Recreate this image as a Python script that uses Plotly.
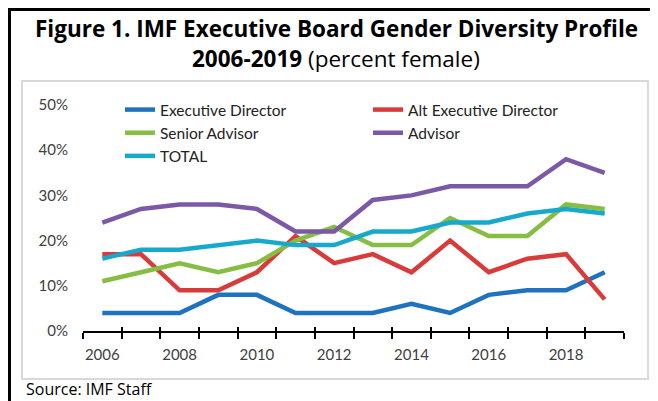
import plotly.graph_objects as go

years = list(range(2006, 2020))
exec_director = [4, 4, 4, 8, 8, 4, 4, 4, 6, 4, 8, 9, 9, 13]
alt_exec_director = [17, 17, 9, 9, 13, 21, 15, 17, 13, 20, 13, 16, 17, 7]
senior_advisor = [11, 13, 15, 13, 15, 20, 23, 19, 19, 25, 21, 21, 28, 27]
advisor = [24, 27, 28, 28, 27, 22, 22, 29, 30, 32, 32, 32, 38, 35]
total = [16, 18, 18, 19, 20, 19, 19, 22, 22, 24, 24, 26, 27, 26]

series_names = ["Executive Director", "Alt Executive Director", "Senior Advisor", "Advisor", "TOTAL"]
series_values = [exec_director, alt_exec_director, senior_advisor, advisor, total]
series_colors = ["#1F72BD", "#D93B3B", "#86BD43", "#7B59A6", "#17A9CC"]

x_label_years = [2006, 2008, 2010, 2012, 2014, 2016, 2018]
y_ticks = [0, 10, 20, 30, 40, 50]

boundaries = [years[0] - 0.5 + i for i in range(len(years) + 1)]

fig = go.Figure()
for name, vals, col in zip(series_names, series_values, series_colors):
    fig.add_trace(go.Scatter(x=years, y=vals, mode="lines", name=name,
                             line=dict(color=col, width=4.5)))
# empty helper trace so the overlay axis (inner half of crossing ticks) is drawn
fig.add_trace(go.Scatter(x=[], y=[], xaxis="x2", showlegend=False, hoverinfo="skip"))

# page offset (browser body margin)
OFF = 8
W, H = 658, 401
L, R, T, B = 75, 42, 97, 78
pw, ph = W - L - R, H - T - B

def px(x):  # page x -> paper
    return (x - OFF - L) / pw

def py(y):  # page y -> paper
    return (H - B - (y - OFF)) / ph

tick_font = dict(family="Lato, Open Sans, sans-serif", size=15, color="#404040")

fig.update_layout(
    width=W, height=H,
    margin=dict(l=L, r=R, t=T, b=B),
    paper_bgcolor="white", plot_bgcolor="white",
    showlegend=True,
    legend=dict(orientation="h", x=px(120), xanchor="left", y=py(133), yanchor="middle",
                entrywidth=203, font=dict(family="Lato, Open Sans, sans-serif", size=15.5, color="#222222"),
                bgcolor="rgba(0,0,0,0)", itemclick=False, tracegroupgap=0),
    xaxis=dict(range=[boundaries[0], boundaries[-1]], tickmode="array",
               tickvals=x_label_years, ticktext=[str(v) for v in x_label_years],
               ticks="", showgrid=False, zeroline=False,
               showline=True, linecolor="#000000", linewidth=2,
               tickfont=tick_font, ticklabelstandoff=9,
               minor=dict(tickmode="array", tickvals=boundaries, ticks="outside",
                          ticklen=6, tickwidth=2, tickcolor="#000000", showgrid=False)),
    xaxis2=dict(overlaying="x", matches="x", anchor="y", side="bottom",
                tickmode="array", tickvals=boundaries, ticks="inside", ticklen=4,
                tickwidth=2, tickcolor="#000000", showticklabels=False,
                showline=False, showgrid=False, zeroline=False),
    yaxis=dict(range=[0, 50], tickmode="array", tickvals=y_ticks,
               ticktext=[f"{v}%" for v in y_ticks], ticks="", showgrid=False,
               zeroline=False, showline=False, tickfont=tick_font, ticklabelstandoff=14),
    shapes=[
        dict(type="rect", xref="paper", yref="paper", x0=px(22), x1=px(648), y0=py(379), y1=py(81),
             line=dict(color="#D9D9D9", width=2), fillcolor="rgba(0,0,0,0)", layer="below"),
        dict(type="line", xref="paper", yref="paper", x0=px(8), x1=px(670), y0=py(9.5), y1=py(9.5),
             line=dict(color="#000000", width=3)),
        dict(type="line", xref="paper", yref="paper", x0=px(9.5), x1=px(9.5), y0=py(8), y1=py(420),
             line=dict(color="#000000", width=3)),
    ],
    annotations=[
        dict(xref="paper", yref="paper", x=px(336), y=py(28), xanchor="center", yanchor="middle",
             text="<b>Figure 1. IMF Executive Board Gender Diversity Profile</b>", showarrow=False,
             font=dict(family="Open Sans, sans-serif", size=22.5, color="#000000")),
        dict(xref="paper", yref="paper", x=px(336), y=py(59), xanchor="center", yanchor="middle",
             text="<b>2006-2019</b> (percent female)", showarrow=False,
             font=dict(family="Open Sans, sans-serif", size=22.5, color="#000000")),
        dict(xref="paper", yref="paper", x=px(24), y=py(389), xanchor="left", yanchor="middle",
             text="Source: IMF Staff", showarrow=False,
             font=dict(family="Open Sans, sans-serif", size=16, color="#000000")),
    ],
)

fig.write_html("out.html")
